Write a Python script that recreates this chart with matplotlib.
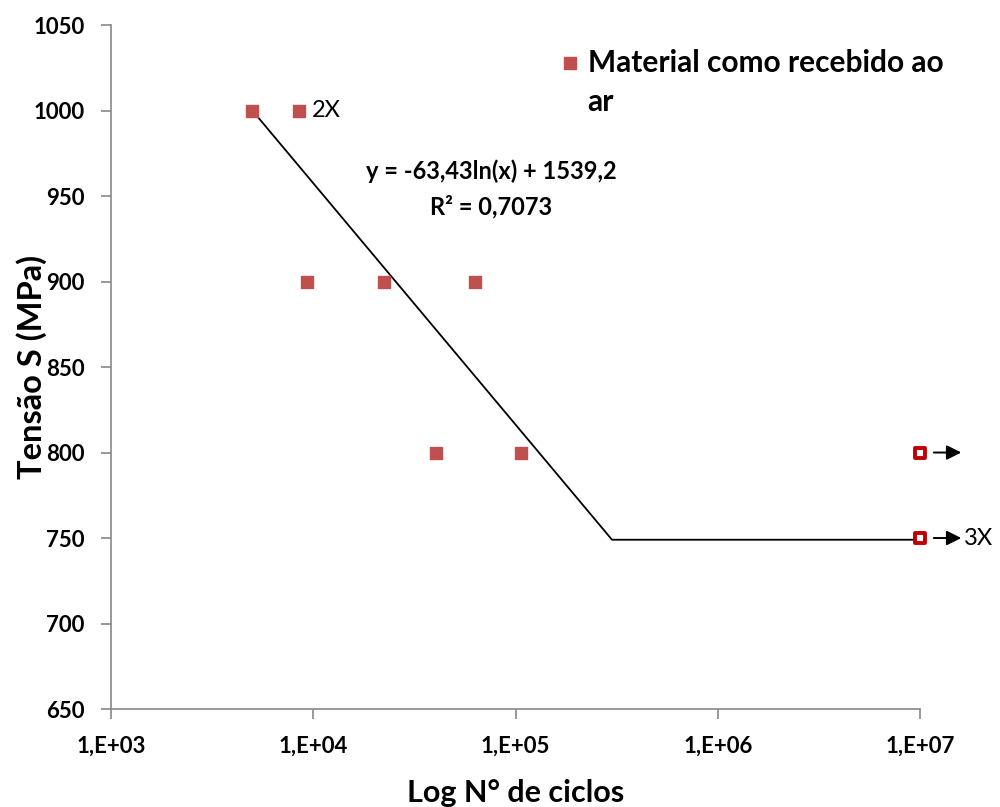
import numpy as np
import matplotlib.pyplot as plt

plt.rcParams['font.family'] = ['Lato', 'DejaVu Sans']

# dados
ciclos = [5000, 8500, 9300, 22500, 63000, 40500, 107000]
tensao = [1000, 1000, 900, 900, 900, 800, 800]
ciclos_runout = [1e7, 1e7]
tensao_runout = [800, 750]
linha_x = [5000, 3.0e5, 1e7]
linha_y = [1000, 749, 749]
xticks = [1e3, 1e4, 1e5, 1e6, 1e7]
xtick_labels = ['1,E+03', '1,E+04', '1,E+05', '1,E+06', '1,E+07']
yticks = [650, 700, 750, 800, 850, 900, 950, 1000, 1050]

vermelho = '#C0504D'
cinza = '#878787'

fig = plt.figure(figsize=(10, 8.07), dpi=100)
ax = fig.add_axes([0.111, 0.1214, 0.809, 0.8476])

ax.plot(linha_x, linha_y, color='black', lw=1.3, zorder=2)
ax.scatter(ciclos, tensao, marker='s', s=75, color=vermelho, zorder=3)
ax.scatter(ciclos_runout, tensao_runout, marker='s', s=60, facecolor='white',
           edgecolor='#C00000', linewidths=2.8, zorder=4, clip_on=False)

for t in tensao_runout:
    ax.annotate('', xy=(1.6e7, t), xytext=(1.17e7, t),
                arrowprops=dict(arrowstyle='-|>', color='black', lw=1.4,
                                mutation_scale=22, shrinkA=0, shrinkB=0),
                annotation_clip=False)
ax.text(1.65e7, 750, '3X', fontsize=17, va='center', ha='left')
ax.text(9900, 1000, '2X', fontsize=17, va='center', ha='left')

ax.text(0.47, 0.761, 'y = -63,43ln(x) + 1539,2\nR² = 0,7073', transform=ax.transAxes,
        ha='center', va='center', fontsize=17, fontweight='bold', linespacing=1.6)

# legenda
ax.scatter([0.567], [0.944], marker='s', s=75, color=vermelho, transform=ax.transAxes,
           clip_on=False)
ax.text(0.589, 0.965, 'Material como recebido ao\nar', transform=ax.transAxes,
        ha='left', va='top', fontsize=21.5, fontweight='bold', linespacing=1.5)

ax.set_xscale('log')
ax.set_xlim(1e3, 1e7)
ax.set_ylim(650, 1050)
ax.set_xticks(xticks)
ax.set_xticklabels(xtick_labels)
ax.minorticks_off()
ax.set_yticks(yticks)

for s in ['top', 'right']:
    ax.spines[s].set_visible(False)
for s in ['left', 'bottom']:
    ax.spines[s].set_color(cinza)
    ax.spines[s].set_linewidth(1.2)
ax.tick_params(axis='both', direction='out', color=cinza, length=7, width=1.2,
               labelsize=16, pad=12)
for lab in ax.get_xticklabels() + ax.get_yticklabels():
    lab.set_fontweight('bold')
ax.tick_params(axis='x', pad=12)

ax.set_xlabel('Log N° de ciclos', fontsize=22, fontweight='bold', va='center')
ax.set_ylabel('Tensão S (MPa)', fontsize=23.5, fontweight='bold', va='center')
ax.xaxis.set_label_coords(0.5, -0.123)
ax.yaxis.set_label_coords(-0.098, 0.5)

fig.savefig('out.png', dpi=100)
